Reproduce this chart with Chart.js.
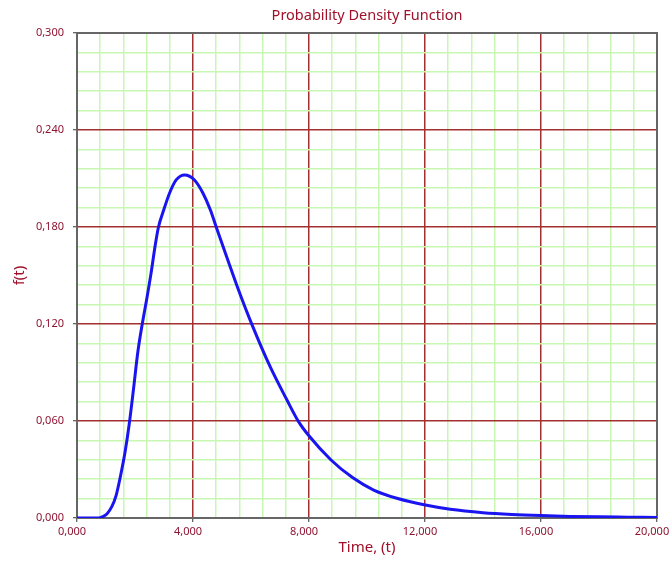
<!DOCTYPE html>
<html>
<head>
<meta charset="utf-8">
<script src="https://cdn.jsdelivr.net/npm/chart.js@4"></script>
<style>
  html, body { margin: 0; padding: 0; background: #fff; }
  #wrap { width: 671px; height: 567px; }
</style>
</head>
<body>
<div id="wrap"><canvas id="pdfChart" width="671" height="567"></canvas></div>
<script>
// time values (x) and density values f(t)
const timeValues = [0, 0.5, 0.75, 0.85, 1.03, 1.2, 1.35, 1.5, 1.65, 1.8, 1.95, 2.1, 2.25, 2.4, 2.55, 2.7, 2.81, 2.99, 3.19, 3.42, 3.71, 4.05, 4.345, 4.60, 4.80, 5.20, 5.55, 6.03, 6.66, 7.24, 7.64, 7.99, 8.76, 9.50, 10.23, 11.03, 12.01, 12.87, 14.0, 15.0, 16.0, 17.0, 18.0, 19.0, 20.0];
const densityValues = [0, 0, 0, 0.0005, 0.0025, 0.007, 0.014, 0.026, 0.040, 0.058, 0.080, 0.103, 0.120, 0.135, 0.151, 0.169, 0.180, 0.1905, 0.2009, 0.2091, 0.2122, 0.2091, 0.2009, 0.1905, 0.180, 0.1596, 0.142, 0.1198, 0.0936, 0.073, 0.0596, 0.051, 0.0359, 0.025, 0.0173, 0.0122, 0.008, 0.0054, 0.0033, 0.0022, 0.0015, 0.001, 0.0007, 0.0005, 0.0003];

const xMajor = 4, xMinor = 0.8;
const yMajor = 0.06, yMinor = 0.012;

const labelColor = '#8E1430';
const titleColor = '#A0102A';
const majorGrid = '#A33030';
const minorGrid = '#C8F7B2';

const isMajor = (v, step) => Math.abs(v / step - Math.round(v / step)) < 1e-6;
const fmt = v => v.toFixed(3).replace('.', ',');

// 25 minor steps on each axis, every 5th is a major line
const gridColors = Array.from({ length: 26 }, (_, i) => i % 5 === 0 ? majorGrid : minorGrid);
const tickColors = Array.from({ length: 26 }, (_, i) => i % 5 === 0 ? '#333' : 'rgba(0,0,0,0)');

const frameAndTitle = {
    id: 'frameAndTitle',
    beforeDatasetsDraw(chart) {
        const { ctx, chartArea: a } = chart;
        ctx.save();
        ctx.strokeStyle = '#666';
        ctx.lineWidth = 2;
        ctx.strokeRect(a.left, a.top, a.right - a.left, a.bottom - a.top);
        ctx.restore();
    },
    afterDraw(chart) {
        const { ctx, chartArea: a } = chart;
        ctx.save();
        ctx.fillStyle = titleColor;
        ctx.font = '14.5px "Noto Sans"';
        ctx.textAlign = 'center';
        ctx.textBaseline = 'alphabetic';
        ctx.fillText('Probability Density Function', (a.left + a.right) / 2, 20);
        ctx.restore();
    }
};

const ctx = document.getElementById('pdfChart').getContext('2d');
new Chart(ctx, {
    type: 'line',
    data: {
        datasets: [{
            data: timeValues.map((t, i) => ({ x: t, y: densityValues[i] })),
            borderColor: '#1A14F0',
            borderWidth: 3,
            pointRadius: 0,
            fill: false,
            cubicInterpolationMode: 'monotone'
        }]
    },
    options: {
        responsive: false,
        animation: false,
        layout: { padding: { top: 33, right: 14, left: 0, bottom: 0 } },
        plugins: { legend: { display: false }, tooltip: { enabled: false }, title: { display: false } },
        scales: {
            x: {
                type: 'linear', min: 0, max: 20,
                afterFit(scale) { scale.height = 49; scale.paddingLeft = 0; scale.paddingRight = 0; },
                border: { display: false },
                grid: { color: gridColors, lineWidth: 1.5, tickColor: tickColors, tickWidth: 1, tickLength: 4 },
                ticks: {
                    stepSize: xMinor, autoSkip: false, maxRotation: 0, padding: 3, labelOffset: -5,
                    color: labelColor, font: { family: 'Noto Sans', size: 11 },
                    callback: v => isMajor(v, xMajor) ? fmt(v) : ''
                },
                title: {
                    display: true, text: 'Time, (t)', color: titleColor,
                    font: { family: 'Noto Sans', size: 15 }, padding: { top: 0, bottom: 10 }
                }
            },
            y: {
                min: 0, max: 0.3,
                afterFit(scale) { scale.width = 77; scale.paddingTop = 0; scale.paddingBottom = 0; },
                border: { display: false },
                grid: { color: gridColors, lineWidth: 1.5, tickColor: tickColors, tickWidth: 1, tickLength: 4 },
                ticks: {
                    stepSize: yMinor, autoSkip: false, padding: 9,
                    color: labelColor, font: { family: 'Noto Sans', size: 11 },
                    callback: v => isMajor(v, yMajor) ? fmt(v) : ''
                },
                title: {
                    display: true, text: 'f(t)', color: titleColor,
                    font: { family: 'Noto Sans', size: 15 }, padding: { top: 11, bottom: 0 }
                }
            }
        }
    },
    plugins: [frameAndTitle]
});
</script>
</body>
</html>
